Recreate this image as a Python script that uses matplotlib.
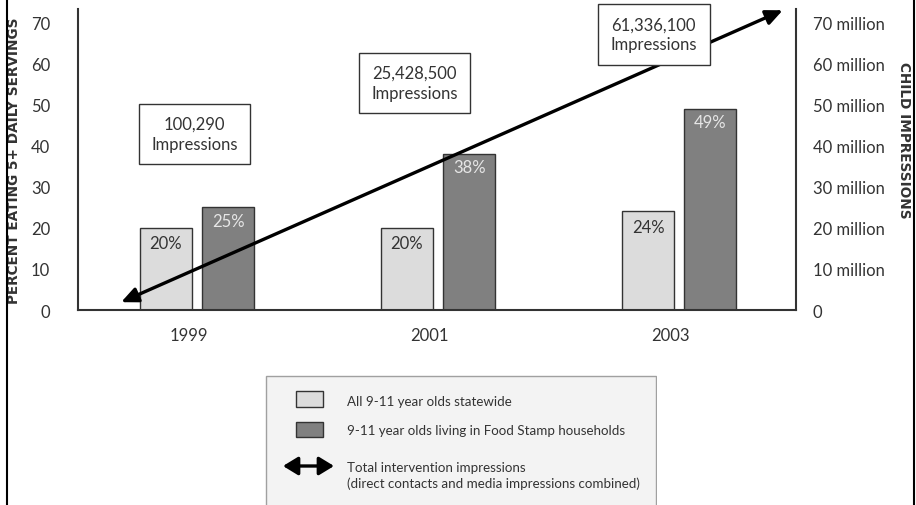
import numpy as np
import matplotlib
matplotlib.use('Agg')
import matplotlib.pyplot as plt
from matplotlib.patches import Rectangle

# datos ***********************************************************************
anios = ['1999', '2001', '2003']
estatal = [20, 20, 24]          # todos los de 9-11 años
food_stamp = [25, 38, 49]       # 9-11 años en hogares Food Stamp
impresiones = ['100,290', '25,428,500', '61,336,100']
caja_y = [42.8, 55.2, 67.1]     # altura de las cajas de texto (escala izq.)
caja_dx = [-0.01, -0.097, -0.105]

# flecha de impresiones totales (millones)
flecha_x = [-0.315, 2.43]
flecha_y = [1.9, 72.9]

ticks_izq = [0, 10, 20, 30, 40, 50, 60, 70]
ticks_der = ['0', '10 million', '20 million', '30 million', '40 million',
             '50 million', '60 million', '70 million']
# *****************************************************************************

plt.rcParams['font.family'] = ['Lato', 'DejaVu Sans']
gris = '#333333'
claro = '#dcdcdc'
oscuro = '#808080'

W, H = 916, 506
fig = plt.figure(figsize=(W / 100, H / 100), dpi=100)
ax = fig.add_axes([78 / W, 1 - 311 / H, (796 - 78) / W, (311 - 10) / H])

x = np.arange(len(anios))
ancho = 0.216
sep = 0.129
ax.bar(x - sep, estatal, ancho, color=claro, edgecolor=gris, linewidth=1, zorder=2)
ax.bar(x + sep, food_stamp, ancho, color=oscuro, edgecolor=gris, linewidth=1, zorder=2)

for i in range(len(anios)):
    ax.text(x[i] - sep, estatal[i] - 1.8, '%d%%' % estatal[i], ha='center', va='top',
            fontsize=12, color=gris, zorder=3)
    ax.text(x[i] + sep, food_stamp[i] - 1.3, '%d%%' % food_stamp[i], ha='center', va='top',
            fontsize=12, color='#e6e6e6', zorder=3)

ax.set_xlim(-0.494, 2.485)
ax.set_ylim(0, 73.2)
ax.set_xticks(x - 0.035)
ax.set_xticklabels(anios, fontsize=12, color=gris)
ax.set_yticks(ticks_izq)
ax.set_yticklabels([str(t) for t in ticks_izq], fontsize=12, color=gris)
ax.tick_params(length=0, pad=20)
ax.tick_params(axis='x', pad=12)
ax.spines['top'].set_visible(False)
for s in ['left', 'right', 'bottom']:
    ax.spines[s].set_color(gris)
    ax.spines[s].set_linewidth(1.5)
ax.set_ylabel('PERCENT EATING 5+ DAILY SERVINGS', fontsize=9.8, fontweight='bold',
              color=gris, family='DejaVu Sans')
ax.yaxis.set_label_coords((21 - 78) / 718, 0.5)

ax2 = ax.twinx()
ax2.set_ylim(0, 73.2)
ax2.set_yticks(ticks_izq)
ax2.set_yticklabels(ticks_der, fontsize=12, color=gris)
ax2.tick_params(length=0, pad=12)
for s in ax2.spines.values():
    s.set_visible(False)
ax2.set_ylabel('CHILD IMPRESSIONS', fontsize=9.8, fontweight='bold', color=gris,
               rotation=-90, family='DejaVu Sans')
ax2.yaxis.set_label_coords((911 - 78) / 718, (311 - 140) / 301)

ax2.annotate('', xy=(flecha_x[1], flecha_y[1]), xytext=(flecha_x[0], flecha_y[0]),
             arrowprops=dict(arrowstyle='<|-|>,head_length=1.0,head_width=0.45',
                             color='black', lw=2.4, shrinkA=0, shrinkB=0), zorder=4)

for i in range(len(anios)):
    ax2.text(x[i] + caja_dx[i], caja_y[i], impresiones[i] + '\nImpressions', ha='center',
             va='center', fontsize=12, color=gris, linespacing=1.3, zorder=5,
             bbox=dict(boxstyle='square,pad=0.75', facecolor='white', edgecolor=gris, lw=1))

# bordes de la página
fig.add_artist(plt.Line2D([7 / W, 7 / W], [0, 1], color='black', lw=1.5))
fig.add_artist(plt.Line2D([914 / W, 914 / W], [0, 1], color='black', lw=1.5))

# leyenda ***********************************************************************
lg = fig.add_axes([265 / W, 0, (657 - 265) / W, (506 - 376) / H])
lg.set_xlim(265, 657)
lg.set_ylim(506, 376)
lg.axis('off')
lg.add_patch(Rectangle((266, 377), 390, 132, facecolor='#f3f3f3', edgecolor='#a0a0a0', lw=1))
lg.add_patch(Rectangle((296, 392), 27, 16, facecolor=claro, edgecolor=gris, lw=1))
lg.add_patch(Rectangle((296, 423), 27, 15, facecolor=oscuro, edgecolor=gris, lw=1))
lg.text(347, 402, 'All 9-11 year olds statewide', fontsize=9.6, color=gris, va='center')
lg.text(347, 431, '9-11 year olds living in Food Stamp households', fontsize=9.6, color=gris, va='center')
lg.annotate('', xy=(334, 467), xytext=(283, 467),
            arrowprops=dict(arrowstyle='<|-|>,head_length=0.9,head_width=0.55',
                            color='black', lw=2.4, shrinkA=0, shrinkB=0))
lg.text(347, 476, 'Total intervention impressions\n(direct contacts and media impressions combined)',
        fontsize=9.6, color=gris, va='center', linespacing=1.3)

fig.savefig('out.png', dpi=100)
